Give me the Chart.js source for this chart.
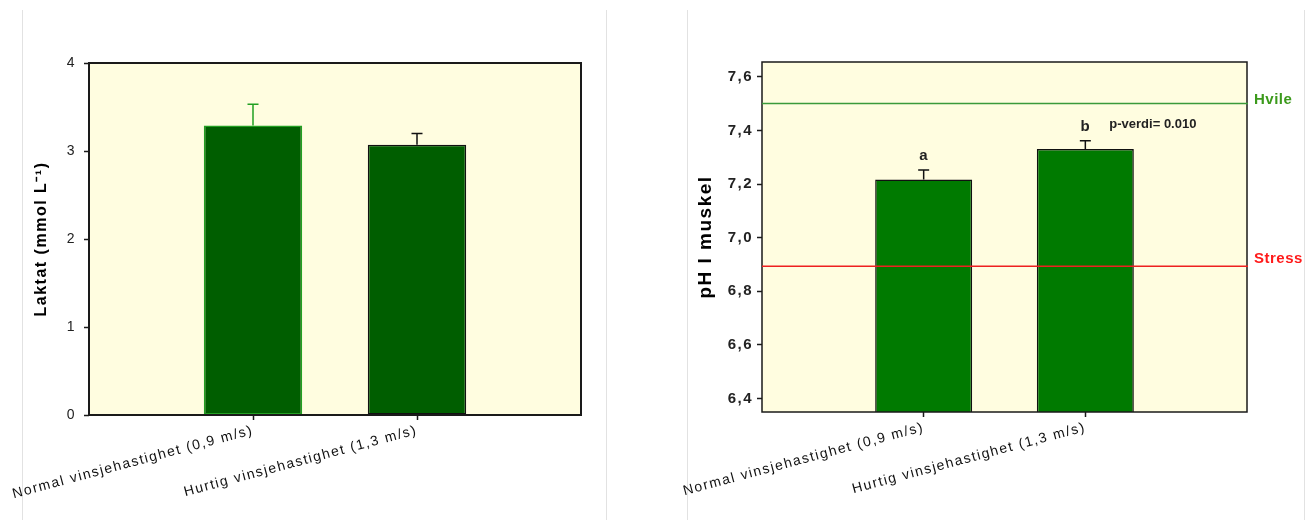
<!DOCTYPE html>
<html>
<head>
<meta charset="utf-8">
<script src="https://cdn.jsdelivr.net/npm/chart.js@4.4.1/dist/chart.umd.min.js"></script>
<style>
  body { margin: 0; background: #fff; width: 1311px; height: 520px; overflow: hidden; position: relative; }
  .box { position: absolute; top: 0; height: 520px; }
  .sep { position: absolute; top: 10px; width: 1px; height: 510px; background: #e2e2e2; }
</style>
</head>
<body>
<div class="sep" style="left:22px"></div>
<div class="sep" style="left:606px"></div>
<div class="sep" style="left:687px"></div>
<div class="sep" style="left:1304px"></div>
<div class="box" style="left:0px;width:606px"><canvas id="laktat"></canvas></div>
<div class="box" style="left:680px;width:631px"><canvas id="ph"></canvas></div>
<script>
// data
const categories = ["Normal vinsjehastighet (0,9 m/s)", "Hurtig vinsjehastighet (1,3 m/s)"];
const laktatMean = [3.29, 3.07];
const laktatSE = [0.24, 0.13];
const laktatTicks = [0, 1, 2, 3, 4];
const phMean = [7.217, 7.331];
const phSE = [0.035, 0.03];
const phTicks = [6.4, 6.6, 6.8, 7.0, 7.2, 7.4, 7.6];
const phLetters = ["a", "b"];
const refNames = ["Hvile", "Stress"];
const refValues = [7.5, 6.893];
const pText = "p-verdi= 0.010";

const FONT = "'Liberation Sans', Arial, sans-serif";
Chart.defaults.font.family = FONT;

// category axis padded with an empty slot at each end
const labels = ["", ...categories, ""];
const pad = (arr) => [null, ...arr, null];

// fond jaune + cadre noir
const frame = {
  id: "frame",
  beforeDraw(chart, args, opts) {
    const { ctx, chartArea: a } = chart;
    ctx.save();
    ctx.fillStyle = opts.bg;
    ctx.fillRect(a.left, a.top, a.width, a.height);
    ctx.restore();
    ctx.letterSpacing = opts.spacing;
  },
  afterDatasetsDraw(chart, args, opts) {
    const { ctx, chartArea: a } = chart;
    ctx.save();
    ctx.strokeStyle = "#1a1a1a";
    ctx.lineWidth = opts.width;
    ctx.strokeRect(a.left, a.top, a.width, a.height);
    ctx.restore();
  },
  afterDraw(chart) {
    chart.ctx.letterSpacing = "0px";
  },
};

// barres d'erreur
const errorBars = {
  id: "errorBars",
  afterDatasetsDraw(chart, args, opts) {
    const { ctx } = chart;
    const y = chart.scales.y;
    const values = chart.data.datasets[0].data;
    chart.getDatasetMeta(0).data.forEach((bar, i) => {
      const err = opts.errors[i];
      if (err == null) return;
      const top = y.getPixelForValue(values[i] + err);
      ctx.save();
      ctx.strokeStyle = opts.colors[i];
      ctx.lineWidth = 1.5;
      ctx.beginPath();
      ctx.moveTo(bar.x, bar.y);
      ctx.lineTo(bar.x, top);
      ctx.moveTo(bar.x - 5.5, top);
      ctx.lineTo(bar.x + 5.5, top);
      ctx.stroke();
      ctx.restore();
    });
  },
};

// lignes de référence + lettres + p-verdi
const phNotes = {
  id: "phNotes",
  afterDatasetsDraw(chart) {
    const { ctx, chartArea: a } = chart;
    const y = chart.scales.y;
    const colors = ["#3a9a3a", "#ee2020"];
    const textColors = ["#3c9a1c", "#ff1a1a"];
    const lift = [4, 8];
    ctx.save();
    ctx.letterSpacing = "0.5px";
    refValues.forEach((v, i) => {
      const py = y.getPixelForValue(v);
      ctx.strokeStyle = colors[i];
      ctx.lineWidth = 1.5;
      ctx.beginPath();
      ctx.moveTo(a.left, py);
      ctx.lineTo(a.right + 1, py);
      ctx.stroke();
      ctx.fillStyle = textColors[i];
      ctx.font = "bold 15px " + FONT;
      ctx.textAlign = "left";
      ctx.textBaseline = "middle";
      ctx.fillText(refNames[i], a.right + 7, py - lift[i]);
    });
    const bars = chart.getDatasetMeta(0).data;
    ctx.fillStyle = "#222";
    phLetters.forEach((t, i) => {
      const bar = bars[i + 1];
      const top = y.getPixelForValue(phMean[i] + phSE[i]);
      ctx.font = "bold 15px " + FONT;
      ctx.textAlign = "center";
      ctx.textBaseline = "middle";
      ctx.fillText(t, bar.x, top - 14);
      if (i === 1) {
        ctx.font = "bold 13px " + FONT;
        ctx.textAlign = "left";
        ctx.letterSpacing = "0px";
        ctx.fillText(pText, bar.x + 24, top - 16);
      }
    });
    ctx.restore();
  },
};

const edgeTicks = (ctx) => (ctx.index === 1 || ctx.index === 2 ? "#1a1a1a" : "rgba(0,0,0,0)");

function makeOptions(cfg) {
  return {
    responsive: true,
    maintainAspectRatio: false,
    animation: false,
    layout: { padding: cfg.padding },
    plugins: {
      legend: { display: false },
      tooltip: { enabled: false },
      frame: { bg: "#fffde0", width: cfg.frameWidth, spacing: cfg.spacing },
      errorBars: { errors: cfg.errors, colors: cfg.errColors },
    },
    scales: {
      x: {
        type: "category",
        offset: false,
        border: { display: false },
        grid: { display: true, offset: false, drawOnChartArea: false, tickLength: 5, tickColor: edgeTicks, tickWidth: 1.5 },
        ticks: { minRotation: 15, maxRotation: 15, autoSkip: false, color: "#111", font: { size: 14 }, padding: 2 },
        afterFit: (s) => { s.height = cfg.xHeight; },
      },
      y: {
        min: cfg.min,
        max: cfg.max,
        border: { display: false },
        grid: { display: true, drawOnChartArea: false, tickLength: 5, tickColor: "#1a1a1a", tickWidth: 1.5 },
        ticks: {
          color: "#222",
          font: cfg.yFont,
          padding: cfg.yPad,
          callback: cfg.fmt,
        },
        afterBuildTicks: (s) => { s.ticks = cfg.ticks.map((v) => ({ value: v })); },
        title: {
          display: true,
          text: cfg.title,
          color: "#000",
          font: cfg.titleFont,
          padding: { top: cfg.titlePad, bottom: 0 },
        },
        afterFit: (s) => { s.width = cfg.yWidth; },
      },
    },
  };
}

new Chart(document.getElementById("laktat"), {
  type: "bar",
  data: {
    labels: labels,
    datasets: [{
      data: pad(laktatMean),
      backgroundColor: "#005e00",
      borderColor: ["rgba(0,0,0,0)", "#22a022", "#111", "rgba(0,0,0,0)"],
      borderWidth: 1.5,
      borderSkipped: false,
      barPercentage: 1,
      categoryPercentage: 0.6,
    }],
  },
  options: makeOptions({
    padding: { left: 0, top: 63, right: 25, bottom: 0 },
    frameWidth: 2,
    spacing: "1.5px",
    errors: pad(laktatSE),
    errColors: [null, "#22a022", "#111", null],
    xHeight: 105,
    yWidth: 89,
    min: 0,
    max: 4,
    ticks: laktatTicks,
    fmt: (v) => String(v),
    yFont: { size: 14 },
    yPad: 8,
    title: "Laktat (mmol L\u207B\u00B9)",
    titleFont: { size: 16, weight: "bold" },
    titlePad: 32,
  }),
  plugins: [frame, errorBars],
});

new Chart(document.getElementById("ph"), {
  type: "bar",
  data: {
    labels: labels,
    datasets: [{
      data: pad(phMean),
      backgroundColor: "#007a00",
      borderColor: ["rgba(0,0,0,0)", "#111", "#111", "rgba(0,0,0,0)"],
      borderWidth: 1.5,
      borderSkipped: false,
      barPercentage: 1,
      categoryPercentage: 0.6,
    }],
  },
  options: makeOptions({
    padding: { left: 0, top: 62, right: 64, bottom: 0 },
    frameWidth: 1.5,
    spacing: "1.5px",
    errors: pad(phSE),
    errColors: [null, "#111", "#111", null],
    xHeight: 108,
    yWidth: 82,
    min: 6.35,
    max: 7.655,
    ticks: phTicks,
    fmt: (v) => v.toFixed(1).replace(".", ","),
    yFont: { size: 15, weight: "bold" },
    yPad: 4,
    title: "pH I muskel",
    titleFont: { size: 19, weight: "bold" },
    titlePad: 14,
  }),
  plugins: [frame, errorBars, phNotes],
});
</script>
</body>
</html>
